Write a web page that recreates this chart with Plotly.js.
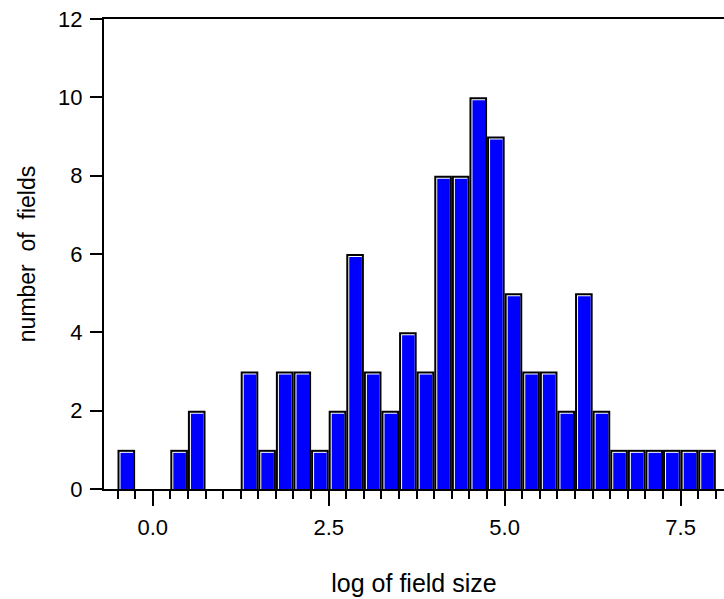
<!DOCTYPE html>
<html>
<head>
<meta charset="utf-8">
<script src="https://cdn.plot.ly/plotly-3.0.1.min.js"></script>
<style>html,body{margin:0;padding:0;background:#fff;}#chart{width:724px;height:599px;}</style>
</head>
<body>
<div id="chart"></div>
<script>
// Bin centres (bin width 0.25) of log field size
const binCenters = [-0.375,-0.125,0.125,0.375,0.625,0.875,1.125,1.375,1.625,1.875,2.125,2.375,2.625,2.875,3.125,3.375,3.625,3.875,4.125,4.375,4.625,4.875,5.125,5.375,5.625,5.875,6.125,6.375,6.625,6.875,7.125,7.375,7.625,7.875];
// Number of fields per bin
const counts = [1,0,0,1,2,0,0,3,1,3,3,1,2,6,3,2,4,3,8,8,10,9,5,3,3,2,5,2,1,1,1,1,1,1];
const xTickVals = [0, 2.5, 5, 7.5];
const xTickText = ["0.0", "2.5", "5.0", "7.5"];
const yTickVals = [0, 2, 4, 6, 8, 10, 12];
const xTitle = "\u00a0\u00a0\u00a0log of field size";
const yTitle = "number\u00a0\u00a0of\u00a0\u00a0fields\u00a0\u00a0\u00a0\u00a0\u00a0\u00a0\u00a0";

const binW = 0.25;
const xRange = [-0.692, 8.116];
const yRange = [0, 12];
const plotW = 620, plotH = 470;
const ux = (xRange[1] - xRange[0]) / plotW;   // data units per px (x)
const uy = (yRange[1] - yRange[0]) / plotH;   // data units per px (y)

const fam = "Liberation Sans, Arial, sans-serif";
const tickFont = {family: fam, size: 22, color: "#000"};
const xTitleFont = {family: fam, size: 25, color: "#000"};
const yTitleFont = {family: fam, size: 23, color: "#000"};

const outer = {
  type: "bar", x: binCenters, y: counts, xaxis: "x", yaxis: "y",
  width: binW, offset: -binW / 2,
  marker: {color: "#000000", line: {width: 0}},
  hoverinfo: "x+y", showlegend: false
};
const highlight = {
  type: "bar", x: binCenters, y: counts, xaxis: "x", yaxis: "y2",
  width: binW - 4 * ux, offset: -binW / 2 + 2 * ux,
  marker: {color: "#ffffff", line: {width: 0}},
  hoverinfo: "skip", showlegend: false
};
const fill = {
  type: "bar", x: binCenters, y: counts, xaxis: "x", yaxis: "y3",
  width: binW - 5 * ux, offset: -binW / 2 + 3 * ux,
  marker: {color: "#0000ff", line: {width: 0}},
  hoverinfo: "skip", showlegend: false
};

const layout = {
  width: 724, height: 599,
  margin: {l: 104, r: 0, t: 19, b: 110, pad: 0},
  paper_bgcolor: "#fff", plot_bgcolor: "#fff",
  barmode: "overlay",
  font: tickFont,
  xaxis: {
    range: xRange, showgrid: false, zeroline: false,
    showline: true, linecolor: "#000", linewidth: 2, mirror: true,
    ticks: "outside", ticklen: 15, tickwidth: 2, tickcolor: "#000",
    tickmode: "array", tickvals: xTickVals, ticktext: xTickText,
    minor: {ticks: "outside", tick0: 0, dtick: 0.25, ticklen: 8, tickwidth: 2, tickcolor: "#000", showgrid: false},
    tickfont: tickFont, ticklabelstandoff: 3,
    title: {text: xTitle, font: xTitleFont, standoff: 35},
    automargin: false, fixedrange: true
  },
  yaxis: {
    range: yRange, showgrid: false, zeroline: false,
    showline: true, linecolor: "#000", linewidth: 2, mirror: false,
    ticks: "outside", ticklen: 12, tickwidth: 2, tickcolor: "#000",
    tickmode: "array", tickvals: yTickVals,
    tickfont: tickFont, ticklabelstandoff: 3,
    title: {text: yTitle, font: yTitleFont, standoff: 16},
    automargin: false, fixedrange: true
  },
  yaxis2: {overlaying: "y", range: [yRange[0] + 2 * uy, yRange[1] + 2 * uy], visible: false, fixedrange: true},
  yaxis3: {overlaying: "y", range: [yRange[0] + 3 * uy, yRange[1] + 3 * uy], visible: false, fixedrange: true}
};

Plotly.newPlot("chart", [outer, highlight, fill], layout, {displayModeBar: false, staticPlot: true});
</script>
</body>
</html>
